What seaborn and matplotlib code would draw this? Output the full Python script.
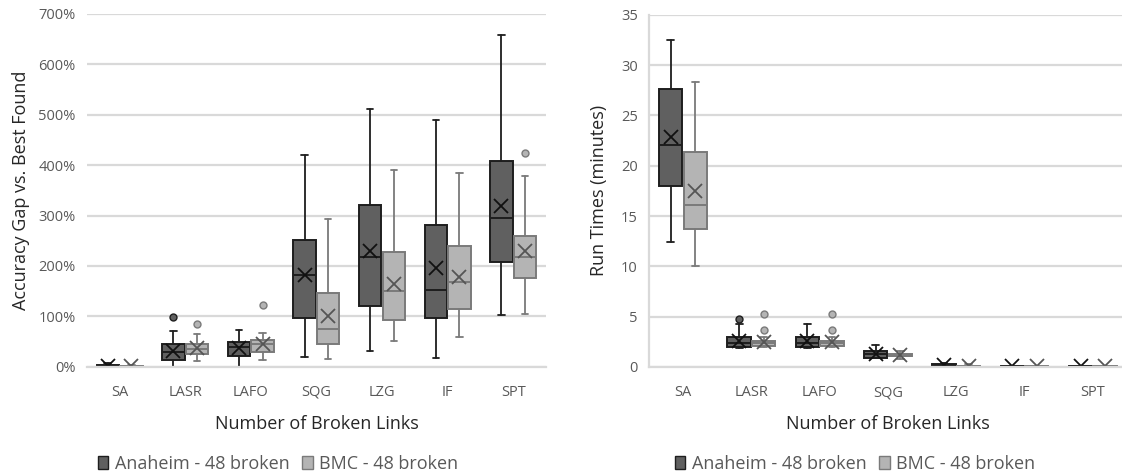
import numpy as np
import matplotlib
matplotlib.use("Agg")
import matplotlib.pyplot as plt
from matplotlib.patches import Patch
from matplotlib.ticker import PercentFormatter
import seaborn as sns

# ---- data -------------------------------------------------------------
methods = ["SA", "LASR", "LAFO", "SQG", "LZG", "IF", "SPT"]
series_names = ["Anaheim - 48 broken", "BMC - 48 broken"]

# Accuracy gap vs. best found (fraction): whisker low, Q1, median, Q3, whisker high, mean, outliers
gap_anaheim_lo = [0.00, 0.00, 0.00, 0.20, 0.31, 0.18, 1.03]
gap_anaheim_q1 = [0.005, 0.14, 0.21, 0.97, 1.21, 0.97, 2.08]
gap_anaheim_med = [0.01, 0.29, 0.39, 1.83, 2.18, 1.53, 2.96]
gap_anaheim_q3 = [0.03, 0.46, 0.50, 2.52, 3.20, 2.81, 4.09]
gap_anaheim_hi = [0.08, 0.70, 0.72, 4.20, 5.12, 4.89, 6.59]
gap_anaheim_mean = [0.02, 0.31, 0.38, 1.82, 2.29, 1.95, 3.18]
gap_anaheim_out = [[], [0.99], [], [], [], [], []]

gap_bmc_lo = [0.00, 0.11, 0.14, 0.15, 0.51, 0.58, 1.05]
gap_bmc_q1 = [0.00, 0.26, 0.30, 0.46, 0.93, 1.14, 1.77]
gap_bmc_med = [0.005, 0.35, 0.45, 0.74, 1.51, 1.69, 2.18]
gap_bmc_q3 = [0.02, 0.46, 0.54, 1.47, 2.27, 2.39, 2.60]
gap_bmc_hi = [0.04, 0.65, 0.67, 2.93, 3.90, 3.84, 3.79]
gap_bmc_mean = [0.01, 0.38, 0.45, 1.00, 1.64, 1.79, 2.30]
gap_bmc_out = [[], [0.85], [1.23], [], [], [], [4.25]]

# Run times (minutes)
time_anaheim_lo = [12.4, 1.9, 1.9, 0.85, 0.00, 0.02, 0.02]
time_anaheim_q1 = [18.0, 2.0, 2.0, 0.90, 0.05, 0.03, 0.03]
time_anaheim_med = [22.1, 2.4, 2.4, 1.25, 0.12, 0.05, 0.05]
time_anaheim_q3 = [27.6, 2.95, 2.95, 1.60, 0.25, 0.07, 0.07]
time_anaheim_hi = [32.5, 4.25, 4.25, 2.20, 0.35, 0.10, 0.10]
time_anaheim_mean = [22.9, 2.6, 2.6, 1.30, 0.15, 0.05, 0.05]
time_anaheim_out = [[], [4.75], [], [], [], [], []]

time_bmc_lo = [10.0, 1.95, 1.95, 0.80, 0.00, 0.02, 0.02]
time_bmc_q1 = [13.7, 2.10, 2.10, 1.05, 0.03, 0.03, 0.03]
time_bmc_med = [16.1, 2.35, 2.35, 1.12, 0.07, 0.05, 0.05]
time_bmc_q3 = [21.4, 2.60, 2.55, 1.25, 0.12, 0.07, 0.07]
time_bmc_hi = [28.3, 2.95, 2.95, 1.60, 0.25, 0.10, 0.10]
time_bmc_mean = [17.5, 2.45, 2.45, 1.20, 0.10, 0.05, 0.05]
time_bmc_out = [[], [3.7, 5.25], [3.7, 5.25], [], [], [], []]

# ---- style ------------------------------------------------------------
sns.set_theme(style="white")
plt.rcParams["font.family"] = ["Open Sans", "DejaVu Sans"]

DARK_FILL, DARK_EDGE = "#606060", "#1e1e1e"
LIGHT_FILL, LIGHT_EDGE = "#b4b4b4", "#7a7a7a"
GRID = "#d9d9d9"
TICK = "#595959"


def make_stats(lo, q1, med, q3, hi, mean, out):
    return [dict(whislo=a, q1=b, med=c, q3=d, whishi=e, mean=f, fliers=g)
            for a, b, c, d, e, f, g in zip(lo, q1, med, q3, hi, mean, out)]


def draw_group(ax, stats, offset, fill, edge, mean_color):
    pos = np.arange(len(stats)) + offset
    ax.bxp(stats, positions=pos, widths=0.34, capwidths=0.1,
           patch_artist=True, showmeans=True, manage_ticks=False,
           boxprops=dict(facecolor=fill, edgecolor=edge, linewidth=1.4),
           medianprops=dict(color=edge, linewidth=1.4),
           whiskerprops=dict(color=edge, linewidth=1.3),
           capprops=dict(color=edge, linewidth=1.3),
           meanprops=dict(marker="x", markeredgecolor=mean_color,
                          markersize=9.5, markeredgewidth=1.3),
           flierprops=dict(marker="o", markerfacecolor=fill,
                           markeredgecolor=edge, markersize=5,
                           markeredgewidth=1.0))


def style_axes(ax, ymax, ystep, left_spine):
    ax.set_xlim(-0.5, len(methods) - 0.5)
    ax.set_ylim(0, ymax)
    ax.set_yticks(np.arange(0, ymax + ystep / 2, ystep))
    ax.set_xticks(np.arange(len(methods)))
    ax.set_xticklabels(methods)
    ax.yaxis.grid(True, color=GRID, linewidth=1.6)
    ax.set_axisbelow(True)
    ax.tick_params(axis="both", length=0, labelsize=10.5, labelcolor=TICK)
    ax.tick_params(axis="x", pad=13)
    ax.tick_params(axis="y", pad=8)
    for side in ("top", "right"):
        ax.spines[side].set_visible(False)
    ax.spines["bottom"].set_color(GRID)
    ax.spines["bottom"].set_linewidth(1.6)
    ax.spines["left"].set_visible(left_spine)
    ax.spines["left"].set_color(GRID)
    ax.spines["left"].set_linewidth(1.6)
    ax.set_xlabel("Number of Broken Links", fontsize=13, color="#262626",
                  labelpad=11)


fig = plt.figure(figsize=(11.22, 4.76), dpi=100)
ax1 = fig.add_axes([0.0773, 0.2296, 0.4094, 0.741])
ax2 = fig.add_axes([0.5784, 0.2290, 0.4260, 0.740])

draw_group(ax1, make_stats(gap_anaheim_lo, gap_anaheim_q1, gap_anaheim_med,
                           gap_anaheim_q3, gap_anaheim_hi, gap_anaheim_mean,
                           gap_anaheim_out),
           -0.18, DARK_FILL, DARK_EDGE, "#111111")
draw_group(ax1, make_stats(gap_bmc_lo, gap_bmc_q1, gap_bmc_med, gap_bmc_q3,
                           gap_bmc_hi, gap_bmc_mean, gap_bmc_out),
           0.18, LIGHT_FILL, LIGHT_EDGE, "#555555")
style_axes(ax1, 7, 1, left_spine=False)
ax1.yaxis.set_major_formatter(PercentFormatter(1.0, decimals=0))
ax1.set_ylabel("Accuracy Gap vs. Best Found", fontsize=13, color="#262626",
               labelpad=6)

draw_group(ax2, make_stats(time_anaheim_lo, time_anaheim_q1, time_anaheim_med,
                           time_anaheim_q3, time_anaheim_hi, time_anaheim_mean,
                           time_anaheim_out),
           -0.18, DARK_FILL, DARK_EDGE, "#111111")
draw_group(ax2, make_stats(time_bmc_lo, time_bmc_q1, time_bmc_med, time_bmc_q3,
                           time_bmc_hi, time_bmc_mean, time_bmc_out),
           0.18, LIGHT_FILL, LIGHT_EDGE, "#555555")
style_axes(ax2, 35, 5, left_spine=True)
ax2.set_ylabel("Run Times (minutes)", fontsize=13, color="#262626",
               labelpad=9)

handles = [Patch(facecolor=DARK_FILL, edgecolor=DARK_EDGE, linewidth=1.0),
           Patch(facecolor=LIGHT_FILL, edgecolor=LIGHT_EDGE, linewidth=1.0)]
for cx in (278 / 1122, 855 / 1122):
    fig.legend(handles, series_names, loc="center", ncol=2,
               bbox_to_anchor=(cx, 1 - 464 / 476), frameon=False,
               fontsize=13, labelcolor=TICK, handlelength=0.6,
               handleheight=0.75, handletextpad=0.35, columnspacing=0.7,
               borderpad=0.1)

fig.savefig("out.png", dpi=100)
